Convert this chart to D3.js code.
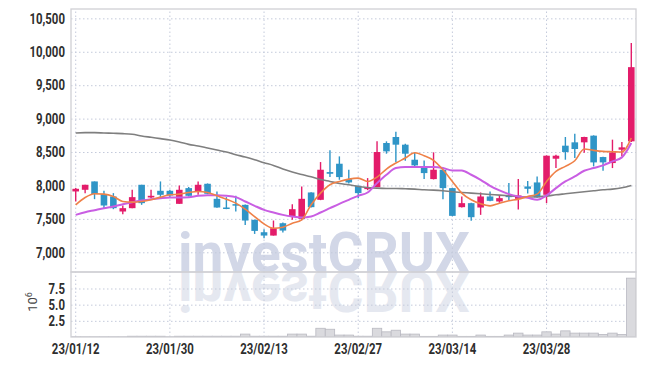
<!DOCTYPE html>
<html>
<head>
<meta charset="utf-8">
<script src="https://cdn.jsdelivr.net/npm/d3@7"></script>
<style>
  body { margin: 0; background: #fff; }
</style>
</head>
<body>
<div id="chart"></div>
<script>
// trading days (yy/mm/dd)
const dates = [
  "23/01/12","23/01/13","23/01/16","23/01/17","23/01/18","23/01/19","23/01/20","23/01/25","23/01/26","23/01/27",
  "23/01/30","23/01/31","23/02/01","23/02/02","23/02/03","23/02/06","23/02/07","23/02/08","23/02/09","23/02/10",
  "23/02/13","23/02/14","23/02/15","23/02/16","23/02/17","23/02/20","23/02/21","23/02/22","23/02/23","23/02/24",
  "23/02/27","23/02/28","23/03/02","23/03/03","23/03/06","23/03/07","23/03/08","23/03/09","23/03/10","23/03/13",
  "23/03/14","23/03/15","23/03/16","23/03/17","23/03/20","23/03/21","23/03/22","23/03/23","23/03/24","23/03/27",
  "23/03/28","23/03/29","23/03/30","23/03/31","23/04/03","23/04/04","23/04/05","23/04/06","23/04/07","23/04/10"
];

const opens = [
  7910,7935,8060,7870,7835,7610,7660,8010,7820,7920,
  7920,7725,7960,7910,8025,7800,7670,7720,7710,7485,
  7300,7250,7435,7535,7500,7895,7785,8200,8325,8095,
  7995,7945,7975,8635,8725,8610,8385,8275,8095,8235,
  7960,7675,7735,7670,7835,7760,7850,7800,7985,8045,
  7860,8400,8595,8645,8645,8745,8425,8335,8535,8660
];
const highs = [
  7960,8010,8060,7920,7885,7700,7935,8010,7935,8060,
  7935,8000,7975,8060,8030,7910,7825,7845,7715,7490,
  7345,7475,7445,7720,7985,7900,8350,8525,8435,8235,
  8000,8110,8660,8660,8805,8625,8485,8375,8495,8240,
  7965,7835,7740,7895,7910,7850,8035,8095,8065,8135,
  8450,8460,8725,8775,8730,8750,8430,8685,8650,10130
];
const lows = [
  7760,7885,7795,7660,7645,7570,7660,7710,7810,7825,
  7825,7725,7835,7860,7870,7665,7645,7610,7410,7275,
  7210,7250,7295,7485,7480,7670,7780,8125,8085,8030,
  7810,7930,7975,8475,8350,8370,8290,8095,8090,7795,
  7540,7670,7470,7560,7765,7740,7780,7640,7880,7815,
  7735,8260,8385,8410,8490,8285,8220,8260,8435,8650
];
const closes = [
  7950,8010,7870,7700,7660,7660,7825,7735,7845,7860,
  7850,7935,7845,8010,7875,7670,7650,7700,7475,7320,
  7250,7360,7325,7645,7800,7675,8235,8175,8125,8045,
  7885,7975,8500,8510,8610,8475,8300,8185,8235,7960,
  7545,7735,7525,7835,7770,7810,7825,7850,7950,7820,
  8445,8445,8500,8545,8725,8345,8345,8495,8570,9770
];

// moving averages as drawn
const ma5 = [
  7710,7820,7875,7870,7835,7760,7750,7760,7785,7825,
  7860,7870,7895,7910,7895,7845,7795,7735,7645,7535,
  7425,7360,7375,7435,7485,7710,7885,8010,8060,8095,
  8110,8060,8125,8245,8335,8410,8490,8445,8375,8235,
  8060,7885,7785,7725,7695,7735,7770,7795,7835,7870,
  8060,8210,8285,8370,8545,8525,8510,8505,8500,8710
];
const ma20 = [
  7560,7600,7630,7660,7685,7720,7750,7775,7795,7810,
  7820,7820,7825,7845,7855,7855,7845,7825,7760,7695,
  7635,7595,7560,7535,7520,7535,7595,7660,7725,7785,
  7845,7895,8035,8160,8260,8275,8275,8275,8275,8260,
  8225,8225,8160,8085,7995,7925,7870,7835,7815,7785,
  7850,7960,8060,8135,8220,8260,8300,8360,8420,8635
];
const ma60 = [
  8785,8790,8790,8785,8780,8775,8765,8740,8720,8700,
  8680,8650,8615,8590,8560,8530,8500,8460,8425,8385,
  8340,8300,8245,8200,8165,8130,8090,8060,8030,8010,
  7985,7970,7960,7955,7955,7950,7945,7935,7930,7920,
  7905,7895,7885,7875,7865,7855,7845,7835,7825,7830,
  7840,7860,7875,7890,7905,7920,7935,7945,7965,8000
];

// volume, millions of shares
const volumes = [
  0.03,0.03,0.03,0.03,0.03,0.03,0.12,0.12,0.12,0.12,
  0.04,0.12,0.12,0.12,0.12,0.12,0.12,0.12,0.45,0.12,
  0.12,0.12,0.12,0.45,0.45,0.12,1.35,1.2,0.3,0.3,
  0.12,0.12,1.35,0.8,1.05,0.45,0.45,0.1,0.1,0.3,
  0.3,0.1,0.1,0.3,0.1,0.1,0.3,0.6,0.3,0.3,
  0.8,0.45,0.95,0.6,0.6,0.6,0.4,0.6,0.4,9.1
];

const priceTicks = [7000, 7500, 8000, 8500, 9000, 9500, 10000, 10500];
const volTicks = [2.5, 5.0, 7.5];
const dateTicks = ["23/01/12", "23/01/30", "23/02/13", "23/02/27", "23/03/14", "23/03/28"];

const width = 645, height = 366;
const plotL = 71, plotR = 636, plotT = 9, priceBottom = 272, volBottom = 337;
const upColor = "#e31c6a", downColor = "#2f95c7";
const labelFont = "Roboto, 'DejaVu Sans', sans-serif";

const svg = d3.select("#chart")
    .append("svg")
    .attr("width", width)
    .attr("height", height)
    .style("background", "#fff");

const x = d3.scaleBand().domain(dates).range([plotL, plotR]).padding(0);
const y = d3.scaleLinear().domain([6705, 10640]).range([priceBottom, plotT]);
const yVol = d3.scaleLinear().domain([0, 10.05]).range([volBottom, priceBottom]);
const cx = d => x(d) + x.bandwidth() / 2;

// clip areas for both panels
const defs = svg.append("defs");
defs.append("clipPath").attr("id", "clipPrice")
    .append("rect").attr("x", plotL).attr("y", plotT).attr("width", plotR - plotL).attr("height", priceBottom - plotT);
defs.append("clipPath").attr("id", "clipVol")
    .append("rect").attr("x", plotL).attr("y", priceBottom).attr("width", plotR - plotL).attr("height", volBottom - priceBottom);

// watermark + reflection
svg.append("text")
    .attr("clip-path", "url(#clipPrice)")
    .attr("x", 178).attr("y", priceBottom)
    .style("font-family", "Roboto, sans-serif")
    .style("font-weight", 700)
    .style("font-size", "55px")
    .attr("fill", "#d2d7e7")
    .text("investCRUX");
svg.append("g").attr("clip-path", "url(#clipVol)")
  .append("text")
    .attr("transform", `translate(0,${2 * priceBottom}) scale(1,-1)`)
    .attr("x", 178).attr("y", priceBottom)
    .style("font-family", "Roboto, sans-serif")
    .style("font-weight", 700)
    .style("font-size", "55px")
    .attr("fill", "#e5e8f0")
    .text("investCRUX");

function styleGrid(g) {
    g.select(".domain").remove();
    g.selectAll(".tick line")
        .attr("stroke", "#c4cadb")
        .attr("stroke-width", 1)
        .attr("stroke-dasharray", "1.5,2.5");
    g.selectAll(".tick text")
        .style("font-family", labelFont)
        .style("font-weight", 700)
        .style("font-size", "15px")
        .attr("fill", "#2e2e2e");
}

// price axis + horizontal grid
svg.append("g")
    .attr("transform", `translate(${plotL},0)`)
    .call(d3.axisLeft(y).tickValues(priceTicks).tickSize(-(plotR - plotL)).tickFormat(d3.format(",")))
    .call(styleGrid)
    .call(g => g.selectAll(".tick text").attr("x", -8).attr("transform", "scale(0.76,1)"));

// volume axis + grid
svg.append("g")
    .attr("transform", `translate(${plotL},0)`)
    .call(d3.axisLeft(yVol).tickValues(volTicks).tickSize(-(plotR - plotL)).tickFormat(d3.format(".1f")))
    .call(styleGrid)
    .call(g => g.selectAll(".tick text").attr("x", -8).attr("transform", "scale(0.76,1)"));

// date axis + vertical grid
svg.append("g")
    .attr("transform", `translate(0,${volBottom})`)
    .call(d3.axisBottom(x).tickValues(dateTicks).tickSize(-(volBottom - plotT)).tickPadding(6))
    .call(styleGrid)
    .call(g => g.selectAll(".tick text").attr("transform", "scale(0.76,1)"));

// 10^6 unit label
const unit = svg.append("text")
    .attr("transform", "translate(37,302) rotate(-90)")
    .attr("text-anchor", "middle")
    .style("font-family", labelFont)
    .style("font-size", "13px")
    .attr("fill", "#444");
unit.append("tspan").text("10");
unit.append("tspan").attr("dy", -5).style("font-size", "9px").text("6");

// volume bars
svg.append("g").attr("clip-path", "url(#clipVol)")
  .selectAll("rect")
  .data(dates)
  .join("rect")
    .attr("x", d => x(d))
    .attr("width", x.bandwidth())
    .attr("y", (d, i) => yVol(volumes[i]))
    .attr("height", (d, i) => yVol(0) - yVol(volumes[i]))
    .attr("fill", "#dadade")
    .attr("stroke", "#b9b9c1")
    .attr("stroke-width", 0.8);

// candles
const candles = svg.append("g").attr("clip-path", "url(#clipPrice)");
const bodyW = 6.6;
dates.forEach((d, i) => {
    const up = closes[i] >= opens[i];
    const col = up ? upColor : downColor;
    candles.append("line")
        .attr("x1", cx(d)).attr("x2", cx(d))
        .attr("y1", y(highs[i])).attr("y2", y(lows[i]))
        .attr("stroke", col)
        .attr("stroke-width", 1.4);
    const yTop = y(Math.max(opens[i], closes[i]));
    const yBot = y(Math.min(opens[i], closes[i]));
    candles.append("rect")
        .attr("x", cx(d) - bodyW / 2)
        .attr("width", bodyW)
        .attr("y", yTop)
        .attr("height", Math.max(1.5, yBot - yTop))
        .attr("fill", col);
});

// moving average lines
const lineGen = vals => d3.line()
    .x((d, i) => cx(dates[i]))
    .y(d => y(d))
    .curve(d3.curveMonotoneX)(vals);

const lines = svg.append("g").attr("clip-path", "url(#clipPrice)");
lines.append("path").attr("d", lineGen(ma60))
    .attr("fill", "none").attr("stroke", "#7f7f7f").attr("stroke-width", 1.6);
lines.append("path").attr("d", lineGen(ma20))
    .attr("fill", "none").attr("stroke", "#c95ee3").attr("stroke-width", 2);
lines.append("path").attr("d", lineGen(ma5))
    .attr("fill", "none").attr("stroke", "#ef8148").attr("stroke-width", 1.6);

// panel frames
svg.append("rect")
    .attr("x", plotL).attr("y", plotT)
    .attr("width", plotR - plotL).attr("height", priceBottom - plotT)
    .attr("fill", "none").attr("stroke", "#d0d0d5").attr("stroke-width", 1.3);
svg.append("rect")
    .attr("x", plotL).attr("y", priceBottom)
    .attr("width", plotR - plotL).attr("height", volBottom - priceBottom)
    .attr("fill", "none").attr("stroke", "#d0d0d5").attr("stroke-width", 1.3);
</script>
</body>
</html>
